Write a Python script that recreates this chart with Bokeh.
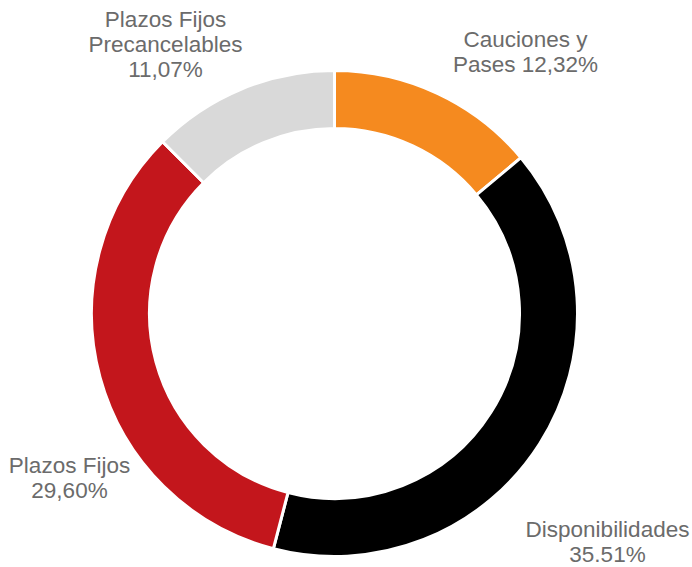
import math
from bokeh.plotting import figure
from bokeh.models import Range1d
from bokeh.core.properties import value
from bokeh.embed import file_html
from bokeh.resources import INLINE

# ---- data ----
categories = ["Cauciones y Pases", "Disponibilidades", "Plazos Fijos", "Plazos Fijos Precancelables"]
shares = [12.32, 35.51, 29.60, 11.07]
share_labels = ["12,32%", "35.51%", "29,60%", "11,07%"]
colors = ["#F58A1F", "#000000", "#C3161C", "#D9D9D9"]

# label text lines (text only)
label_lines = [
    ["Cauciones y", "Pases " + share_labels[0]],
    ["Disponibilidades", share_labels[1]],
    ["Plazos Fijos", share_labels[2]],
    ["Plazos Fijos", "Precancelables", share_labels[3]],
]

# ---- layout (pixel-like data space, y up) ----
W, H = 692, 567
cx, cy = 334, 254
r_out, r_in = 243, 185
label_anchor = [(525, 528), (607, 38), (69, 102), (165, 548)]  # x center, first line anchor
line_step = 25

total = sum(shares)
starts, ends = [], []
cum = 0.0
for s in shares:
    a0 = math.pi / 2 - 2 * math.pi * (cum + s) / total
    a1 = math.pi / 2 - 2 * math.pi * cum / total
    starts.append(a0)
    ends.append(a1)
    cum += s

p = figure(width=W, height=H, output_backend="svg", toolbar_location=None,
           x_range=Range1d(0, W), y_range=Range1d(0, H), min_border=0,
           match_aspect=False)
p.axis.visible = False
p.grid.visible = False
p.outline_line_color = None
p.background_fill_color = "white"
p.border_fill_color = "white"

p.annular_wedge(x=[cx] * len(shares), y=[cy] * len(shares),
                inner_radius=r_in, outer_radius=r_out,
                start_angle=starts, end_angle=ends,
                fill_color=colors, line_color="white", line_width=3)

tx, ty, tt = [], [], []
for (ax, ay), lines in zip(label_anchor, label_lines):
    for i, ln in enumerate(lines):
        tx.append(ax)
        ty.append(ay - i * line_step)
        tt.append(ln)

p.text(x=tx, y=ty, text=tt, text_align="center", text_baseline="alphabetic",
       text_font=value("Liberation Sans"), text_font_size="22.5px",
       text_color="#6B6B6B")

open("out.html", "w").write(file_html(p, INLINE))
